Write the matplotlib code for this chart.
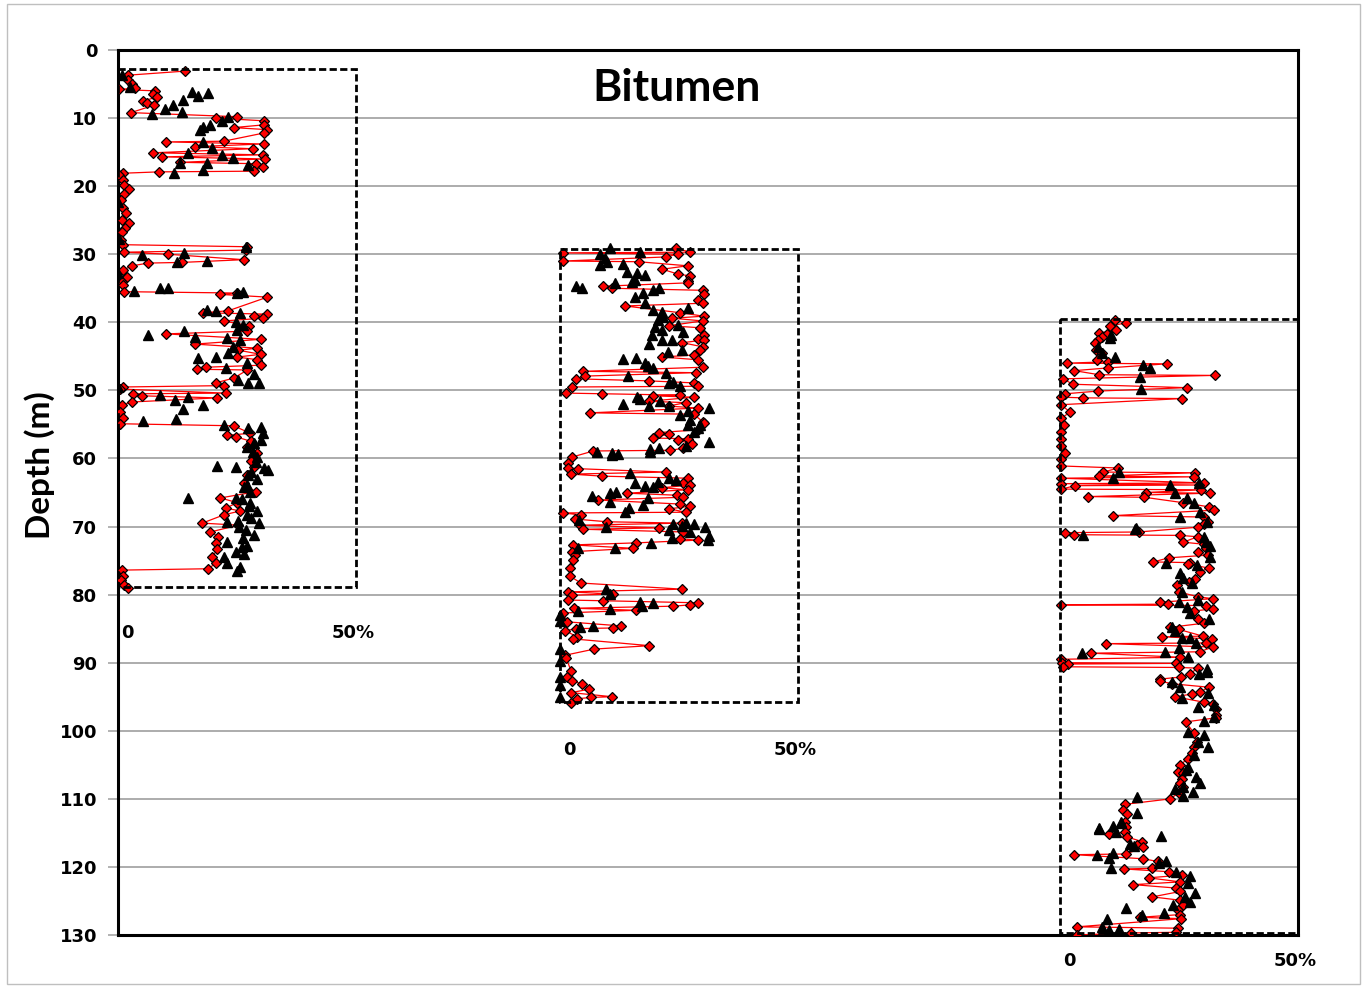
import numpy as np
import matplotlib
matplotlib.use("Agg")
import matplotlib.pyplot as plt
from matplotlib.patches import Rectangle

# ---- data: (depth m, bitumen %) for each well ----
w1_red_depth = [3.1, 3.7, 4.4, 5.0, 5.6, 5.8, 6.0, 6.5, 6.9, 7.5, 7.8, 8.1, 9.2, 9.8, 10.0, 10.4, 11.0, 11.4, 11.7, 12.2,
                13.4, 13.5, 13.8, 14.2, 14.5, 15.1, 15.4, 15.7, 16.0, 16.5, 16.7, 17.2, 17.8, 17.9, 18.1, 18.4, 19.1, 19.8,
                20.4, 21.2, 22.1, 23.2, 24.0, 25.0, 25.4, 26.1, 26.7, 27.9, 28.6, 28.9, 29.4, 29.7, 30.0, 30.8, 31.2, 31.3,
                31.7, 32.3, 33.3, 34.1, 34.5, 35.5, 35.7, 35.9, 36.3, 38.3, 38.6, 38.8, 39.1, 39.4, 39.8, 40.5, 41.3, 41.7,
                42.5, 43.2, 43.8, 44.1, 44.7, 45.1, 45.5, 46.3, 46.6, 46.9, 47.0, 48.2, 48.9, 49.3, 49.5, 49.8, 50.4, 50.5,
                50.8, 51.1, 51.7, 52.1, 53.2, 54.1, 54.9, 55.2, 56.3, 56.6, 56.8, 57.5, 58.3, 59.2, 60.3, 61.2, 62.4, 63.6,
                64.9, 65.8, 66.5, 67.3, 67.7, 68.3, 69.5, 69.8, 70.8, 71.5, 72.4, 73.3, 74.5, 75.4, 76.2, 76.4, 77.2, 77.9,
                78.6, 79.0]
w1_red_val = [14.1, 2.1, 2.1, 3.0, 3.6, 0.2, 7.8, 7.4, 8.2, 5.3, 6.1, 7.6, 2.7, 25.1, 20.5, 30.6, 30.6, 24.3, 31.4, 30.6,
              22.2, 10.1, 30.6, 16.2, 28.3, 7.4, 30.4, 9.3, 30.8, 13.1, 28.9, 30.4, 28.5, 8.6, 1.1, 0.2, 1.1, 1.3,
              2.3, 1.3, 0.6, 1.1, 1.7, 0.8, 2.3, 1.5, 0.8, 0.6, 1.1, 27.2, 26.8, 1.3, 10.5, 26.4, 13.5, 6.3,
              3.0, 1.1, 1.9, 0.8, 1.1, 1.3, 25.1, 21.5, 31.4, 23.2, 17.9, 31.4, 28.5, 30.4, 22.2, 27.5, 27.2, 10.1,
              30.0, 16.2, 29.3, 25.3, 30.0, 25.1, 29.3, 30.0, 18.4, 16.7, 27.2, 24.3, 20.5, 22.2, 1.1, 0.4, 22.6, 3.2,
              5.1, 20.9, 3.0, 0.8, 0.4, 1.1, 0.4, 24.3, 27.8, 23.0, 24.7, 28.0, 27.2, 29.3, 28.0, 28.5, 27.2, 26.4,
              28.9, 21.5, 25.1, 22.6, 25.7, 22.2, 17.7, 25.3, 19.4, 21.1, 20.5, 20.9, 19.8, 20.5, 19.0, 0.8, 1.1, 0.6,
              1.3, 2.1]

w1_tri_depth = [3.7, 5.4, 6.2, 6.3, 6.8, 7.3, 8.1, 8.7, 9.1, 9.4, 9.8, 10.4, 11.0, 11.3, 11.7, 13.5, 14.4, 15.1, 15.4,
                15.9, 16.6, 16.6, 16.9, 17.6, 18.1, 22.3, 27.8, 28.9, 29.8, 30.1, 31.0, 31.2, 32.7, 35.0, 35.0, 35.4,
                35.5, 35.7, 38.2, 38.3, 38.6, 39.9, 40.4, 41.1, 41.3, 41.9, 42.2, 42.3, 42.6, 43.6, 44.5, 45.1, 45.2,
                46.0, 46.7, 47.6, 48.5, 48.9, 48.9, 49.5, 50.7, 51.0, 51.4, 52.1, 52.7, 54.2, 54.5, 55.1, 55.4, 55.5,
                56.3, 57.3, 57.8, 58.3, 59.0, 59.8, 60.5, 61.1, 61.2, 61.4, 61.7, 62.0, 62.4, 63.0, 63.9, 64.2, 64.9,
                65.8, 65.8, 66.0, 66.5, 67.0, 67.7, 68.3, 68.8, 69.2, 69.3, 69.5, 70.0, 70.5, 71.2, 71.7, 72.3, 72.8,
                73.0, 73.7, 74.0, 74.5, 75.4, 75.9, 76.6]
w1_tri_val = [0.8, 2.5, 15.6, 19.0, 16.9, 13.7, 11.6, 9.9, 13.5, 7.2, 23.2, 21.9, 19.4, 17.9, 17.3, 17.9, 19.8, 14.8, 21.9,
              24.1, 18.6, 13.1, 27.4, 17.9, 11.8, 0.0, 0.2, 27.0, 13.9, 5.1, 18.8, 12.4, 0.0, 8.9, 10.5, 3.4,
              26.2, 25.1, 18.8, 20.7, 25.7, 24.7, 26.2, 25.1, 13.9, 6.3, 16.2, 23.0, 25.7, 24.1, 23.2, 20.7, 16.9,
              27.2, 22.6, 28.5, 25.3, 27.4, 29.7, 0.0, 8.9, 14.8, 12.0, 17.9, 13.7, 12.2, 5.3, 22.2, 30.0, 27.4,
              30.4, 30.0, 28.5, 27.2, 28.3, 29.3, 29.0, 20.9, 24.7, 30.6, 31.6, 28.0, 27.4, 29.3, 27.2, 26.5, 27.8,
              14.8, 24.7, 26.0, 27.8, 27.5, 29.3, 27.2, 28.0, 25.3, 23.0, 29.7, 25.5, 26.8, 28.5, 26.2, 23.0, 27.2,
              26.0, 24.9, 26.5, 22.2, 23.0, 25.7, 25.1]

w2_red_depth = [29.1, 29.7, 29.8, 30.0, 30.4, 31.0, 31.1, 31.7, 32.2, 32.9, 33.2, 33.9, 34.2, 34.7, 35.0, 35.3, 35.8, 36.7,
                37.2, 37.6, 38.6, 39.1, 39.4, 39.8, 40.5, 40.8, 41.9, 42.5, 42.6, 43.0, 43.6, 44.1, 44.8, 45.1, 45.5, 46.6,
                47.2, 47.4, 47.9, 48.3, 48.6, 48.9, 49.4, 49.5, 50.4, 50.5, 50.7, 50.8, 51.0, 51.6, 51.8, 52.3, 52.6, 53.3,
                53.5, 54.6, 54.8, 55.8, 56.2, 56.4, 57.0, 57.1, 57.3, 57.9, 58.5, 58.8, 58.9, 59.8, 60.7, 61.4, 61.5, 62.0,
                62.3, 62.6, 62.9, 63.6, 63.9, 64.3, 64.6, 65.1, 65.4, 65.7, 66.1, 66.7, 67.0, 67.4, 67.9, 68.0, 68.3, 68.9,
                69.3, 69.5, 69.8, 70.2, 70.4, 70.8, 71.8, 72.0, 72.4, 72.7, 73.2, 73.7, 74.2, 74.9, 76.1, 77.3, 78.3, 79.2,
                79.6, 79.9, 80.1, 80.8, 80.9, 81.2, 81.5, 81.7, 82.0, 82.3, 82.7, 84.0, 84.6, 84.9, 85.0, 85.3, 86.2, 86.5,
                87.5, 88.0, 88.9, 89.3, 91.2, 92.1, 92.7, 93.1, 93.9, 94.4, 95.0, 95.1, 95.3, 95.9]
w2_red_val = [24.3, 27.4, 0.6, 24.7, 22.2, 0.6, 16.5, 26.8, 21.5, 24.7, 27.4, 26.8, 27.0, 9.1, 11.0, 30.0, 30.2, 28.9,
              30.0, 13.7, 25.3, 30.2, 23.6, 30.0, 22.8, 29.5, 30.2, 28.9, 30.2, 25.7, 30.0, 29.5, 28.1, 21.5, 28.9, 30.0,
              4.9, 28.5, 5.3, 3.4, 18.6, 28.1, 28.9, 2.5, 1.3, 8.9, 25.3, 19.6, 28.1, 18.6, 26.4, 22.8, 28.9, 6.3,
              28.1, 30.0, 30.2, 28.9, 20.7, 22.8, 19.6, 26.8, 24.7, 27.8, 25.9, 23.2, 7.0, 2.5, 1.7, 1.7, 3.8, 22.2,
              2.3, 8.9, 26.8, 25.9, 27.4, 21.5, 26.8, 14.1, 24.5, 25.9, 8.0, 25.3, 27.4, 23.0, 26.4, 0.6, 4.4, 3.2,
              9.9, 25.7, 4.2, 20.7, 4.9, 25.9, 25.3, 28.9, 16.0, 2.7, 15.4, 2.5, 3.2, 2.7, 2.1, 2.1, 4.4, 25.7,
              1.7, 11.2, 2.5, 1.7, 9.1, 28.9, 27.4, 23.8, 3.0, 16.0, 0.6, 1.5, 12.9, 11.2, 3.4, 1.1, 3.6, 2.7,
              18.8, 7.2, 1.1, 1.3, 2.3, 1.5, 2.5, 4.6, 6.1, 2.3, 11.0, 6.5, 3.6, 2.3]

w2_tri_depth = [29.1, 29.7, 30.0, 30.6, 31.1, 31.4, 31.6, 32.6, 32.8, 33.0, 33.8, 34.1, 34.2, 34.7, 35.0, 35.0, 35.3, 35.7,
                36.3, 37.2, 37.9, 38.2, 38.5, 39.2, 39.7, 40.4, 40.7, 41.1, 41.4, 41.9, 42.6, 42.6, 43.2, 44.1, 44.4,
                45.2, 45.4, 46.0, 46.4, 46.7, 47.4, 47.9, 48.7, 48.9, 49.4, 51.0, 51.3, 51.6, 52.0, 52.3, 52.3, 52.6,
                53.1, 53.6, 54.3, 55.1, 55.1, 55.5, 56.1, 57.6, 58.2, 58.5, 58.6, 59.0, 59.0, 59.2, 59.3, 59.5, 62.1,
                62.9, 63.2, 63.5, 63.6, 64.0, 64.2, 64.9, 65.1, 65.5, 65.8, 66.4, 66.8, 67.3, 67.9, 69.0, 69.5, 69.6,
                69.6, 69.9, 70.1, 70.1, 70.5, 70.8, 71.4, 71.7, 72.0, 72.4, 73.2, 73.2, 79.2, 79.9, 81.1, 81.2, 81.7,
                82.1, 82.4, 83.0, 83.9, 84.6, 84.8, 88.0, 89.7, 92.1, 93.3, 95.0]
w2_tri_val = [10.5, 16.9, 8.4, 9.5, 9.9, 13.3, 8.4, 14.1, 16.2, 17.9, 15.8, 15.2, 11.6, 3.4, 4.6, 20.7, 19.6, 17.5,
              15.8, 17.9, 26.8, 19.6, 21.5, 21.7, 20.5, 24.7, 20.0, 21.5, 25.9, 19.4, 21.5, 23.6, 18.6, 25.7, 22.6,
              16.0, 13.3, 17.9, 18.4, 19.6, 22.2, 14.3, 23.8, 22.8, 25.3, 16.2, 16.9, 21.1, 13.3, 18.6, 22.8, 31.4,
              26.8, 25.3, 27.4, 27.0, 29.5, 28.9, 28.1, 31.4, 26.4, 20.9, 19.0, 7.8, 19.0, 11.0, 12.2, 11.0, 14.8,
              22.8, 24.3, 20.5, 15.8, 17.9, 19.6, 11.8, 10.5, 6.8, 18.4, 10.5, 17.5, 14.6, 13.7, 4.0, 26.4, 23.8,
              28.1, 25.7, 9.7, 30.4, 22.8, 27.4, 31.4, 23.6, 31.0, 19.2, 11.6, 3.8, 9.7, 10.5, 16.9, 19.6, 17.3,
              10.5, 3.8, 0.0, 0.0, 7.0, 4.2, 0.0, 0.0, 0.0, 0.0, 0.0]

w3_red_depth = [39.7, 40.1, 40.5, 41.1, 41.6, 41.7, 42.1, 42.6, 43.0, 44.1, 44.5, 45.6, 45.8, 46.0, 46.1, 46.7, 47.1, 47.7,
                47.8, 48.3, 49.1, 49.6, 50.1, 50.5, 51.0, 51.1, 51.2, 52.1, 53.2, 54.1, 55.1, 56.1, 57.1, 58.2, 59.2, 60.1,
                61.1, 61.4, 62.0, 62.1, 62.6, 62.7, 62.9, 63.6, 63.7, 63.9, 64.0, 64.5, 64.6, 65.0, 65.1, 65.6, 65.7, 66.5,
                67.1, 67.6, 68.4, 68.6, 69.3, 69.6, 70.1, 70.8, 70.9, 71.2, 71.3, 71.5, 72.3, 72.6, 73.2, 73.8, 74.2, 74.6,
                75.2, 75.3, 75.5, 76.1, 76.7, 77.7, 78.1, 78.6, 79.6, 80.3, 80.6, 81.1, 81.4, 81.5, 81.6, 82.1, 82.4, 83.6,
                84.2, 84.8, 85.1, 86.1, 86.2, 86.5, 87.1, 87.2, 87.7, 88.4, 88.6, 89.2, 89.5, 90.0, 90.1, 90.2, 90.6, 90.7,
                90.8, 91.7, 92.1, 92.4, 92.7, 93.1, 93.6, 94.3, 94.6, 95.0, 95.8, 96.1, 96.8, 97.7, 98.1, 98.7, 100.3,
                101.6, 102.4, 103.3, 104.1, 105.0, 106.0, 106.2, 107.1, 107.7, 108.3, 109.1, 110.0, 110.8, 111.6, 112.2,
                113.4, 114.1, 114.9, 115.2, 115.6, 116.3, 116.8, 117.1, 118.1, 118.2, 118.8, 119.2, 120.2, 120.3, 120.7,
                121.2, 121.6, 122.2, 122.6, 123.1, 123.6, 124.4, 124.9, 125.6, 126.4, 127.0, 127.4, 127.6, 128.8, 129.0,
                129.6, 129.7, 130.0]
w3_red_val = [11.6, 13.9, 10.5, 11.8, 8.2, 9.9, 8.9, 8.0, 7.4, 7.6, 8.9, 7.8, 10.1, 1.5, 22.4, 10.1, 3.0, 8.2,
              32.5, 0.6, 2.7, 26.6, 8.0, 1.1, 0.2, 4.9, 25.7, 0.2, 2.1, 0.2, 0.8, 0.2, 0.2, 0.2, 1.1, 0.2,
              0.2, 12.2, 9.1, 28.3, 8.2, 28.1, 0.2, 30.2, 0.2, 29.1, 3.2, 0.2, 29.7, 18.1, 31.4, 5.9, 17.7, 25.9,
              31.2, 32.3, 11.2, 30.2, 31.0, 30.2, 28.9, 16.5, 1.1, 3.0, 25.3, 28.9, 25.9, 30.2, 30.6, 28.9, 31.0, 22.8,
              19.6, 27.4, 26.8, 31.2, 29.3, 28.3, 27.0, 24.5, 24.9, 28.9, 32.1, 21.1, 22.6, 0.2, 30.6, 32.1, 28.1, 28.9,
              30.2, 23.2, 24.9, 30.0, 21.5, 31.9, 30.6, 9.7, 32.1, 29.3, 6.5, 25.3, 0.2, 0.4, 24.3, 1.7, 0.6, 24.9,
              28.9, 27.2, 25.5, 21.1, 20.9, 23.6, 31.2, 29.5, 27.8, 24.1, 30.2, 32.1, 32.7, 32.7, 32.7, 26.4, 28.1,
              28.7, 28.1, 27.8, 26.8, 25.3, 24.7, 25.9, 25.7, 25.3, 25.9, 24.9, 23.2, 13.7, 13.3, 14.1,
              13.7, 13.9, 13.7, 10.3, 14.1, 17.3, 16.2, 17.5, 13.9, 3.0, 17.5, 20.5, 19.4, 13.5, 22.8,
              25.7, 18.6, 25.3, 15.4, 24.3, 25.3, 19.4, 25.3, 25.9, 24.7, 25.3, 16.7, 25.5, 3.6, 24.7,
              24.3, 14.8, 3.6]

w3_tri_depth = [41.9, 42.3, 43.6, 44.5, 45.1, 46.3, 46.7, 48.0, 49.8, 62.0, 62.9, 63.6, 63.9, 65.0, 65.8, 66.5, 67.9,
                68.6, 69.4, 70.2, 70.3, 71.2, 71.5, 72.3, 72.9, 74.5, 75.4, 75.6, 76.8, 77.6, 78.3, 79.6, 80.8, 81.1,
                81.8, 82.7, 83.6, 84.8, 85.3, 86.4, 86.4, 87.1, 87.8, 88.4, 88.6, 89.1, 90.9, 91.4, 91.7, 92.8, 93.6,
                94.5, 95.2, 96.2, 96.5, 98.0, 98.6, 100.2, 100.6, 101.6, 102.4, 103.6, 105.3, 105.8, 106.8, 107.7,
                108.3, 108.5, 109.0, 109.6, 109.7, 112.1, 113.4, 113.6, 114.0, 114.3, 114.5, 114.8, 115.4, 116.6,
                116.9, 118.0, 118.2, 118.7, 119.2, 119.4, 120.1, 120.8, 121.3, 122.3, 123.8, 124.4, 125.1, 125.6,
                126.1, 126.8, 127.1, 127.6, 128.8, 129.1, 129.3]
w3_tri_val = [10.8, 10.5, 8.0, 8.9, 11.6, 17.5, 18.8, 16.7, 17.1, 12.4, 11.2, 29.1, 23.0, 24.1, 26.6, 28.1, 29.3,
              25.1, 30.8, 16.0, 15.8, 4.9, 30.2, 30.6, 31.4, 31.6, 22.2, 28.7, 25.3, 25.9, 27.8, 25.7, 28.9, 24.9,
              26.6, 27.2, 31.2, 23.6, 24.1, 25.7, 27.4, 28.5, 24.9, 22.0, 4.6, 26.8, 30.8, 30.8, 29.1, 23.6, 25.3,
              31.0, 25.7, 32.3, 28.9, 32.3, 30.2, 26.8, 30.2, 28.9, 31.0, 28.1, 26.8, 26.4, 28.5, 29.5,
              25.9, 24.1, 27.9, 25.9, 16.2, 16.2, 12.7, 12.9, 11.2, 8.2, 8.2, 11.8, 21.3, 14.6,
              15.6, 11.2, 7.8, 10.3, 22.2, 20.7, 10.8, 24.3, 27.4, 26.8, 28.3, 26.2, 27.4, 23.8,
              13.9, 21.9, 17.3, 9.9, 8.9, 12.4, 10.3]

wells = [
    (w1_red_depth, w1_red_val, w1_tri_depth, w1_tri_val),
    (w2_red_depth, w2_red_val, w2_tri_depth, w2_tri_val),
    (w3_red_depth, w3_red_val, w3_tri_depth, w3_tri_val),
]
x_offsets = [0.0, 92.9, 198.0]        # horizontal shift of each well track (in %)
box_top = [2.8, 29.2, 39.5]
box_bottom = [78.9, 95.8, 129.7]
label_depth = [85.6, 102.8, 133.8]
depth_ticks = list(range(0, 131, 10))

fig = plt.figure(figsize=(13.64, 9.9), dpi=100)
ax = fig.add_axes([118 / 1364, 1 - 935 / 990, 1180 / 1364, 885 / 990])

# outer chart border
fig.patches.append(Rectangle((0.005, 0.006), 0.992, 0.99, transform=fig.transFigure,
                             fill=False, ec="#bfbfbf", lw=1.0))

for i, (rd, rv, td, tv) in enumerate(wells):
    off = x_offsets[i]
    order = np.argsort(rd, kind="stable")
    rd = np.array(rd)[order]
    rv = np.array(rv)[order]
    ax.plot(rv + off, rd, color="red", lw=0.9, zorder=3)
    ax.plot(rv + off, rd, ls="none", marker="D", ms=5, mfc="red", mec="black", mew=0.9, zorder=4)
    ax.plot(np.array(tv) + off, td, ls="none", marker="^", ms=6.8, color="black", zorder=5)
    ax.add_patch(Rectangle((off, box_top[i]), 50, box_bottom[i] - box_top[i], fill=False,
                           ec="black", lw=2.0, ls=(0, (2.6, 1.2)), zorder=6, clip_on=False))
    ax.text(off + 2.0, label_depth[i], "0", ha="center", va="center", fontsize=13,
            fontweight="bold", clip_on=False)
    ax.text(off + 49.5, label_depth[i], "50%", ha="center", va="center", fontsize=13,
            fontweight="bold", clip_on=False)

ax.set_xlim(0, 248)
ax.set_ylim(130, 0)
ax.set_yticks(depth_ticks)
ax.set_yticklabels([str(t) for t in depth_ticks], fontsize=13, fontweight="bold")
ax.set_xticks([])
ax.tick_params(axis="y", length=7, width=1.2, color="#a6a6a6", pad=8)
ax.grid(axis="y", color="#a6a6a6", lw=1.3, zorder=0)
ax.set_axisbelow(True)
for s in ax.spines.values():
    s.set_color("black")
    s.set_linewidth(2.2)

fig.text(40 / 1364, 1 - 465 / 990, "Depth (m)", rotation=90, ha="center", va="center",
         fontsize=24, fontweight="bold", family=["Lato", "DejaVu Sans"])
fig.text(677 / 1364, 1 - 88 / 990, "Bitumen", ha="center", va="center",
         fontsize=32, fontweight="bold", family=["Lato", "DejaVu Sans"])

fig.savefig("out.png", dpi=100)
